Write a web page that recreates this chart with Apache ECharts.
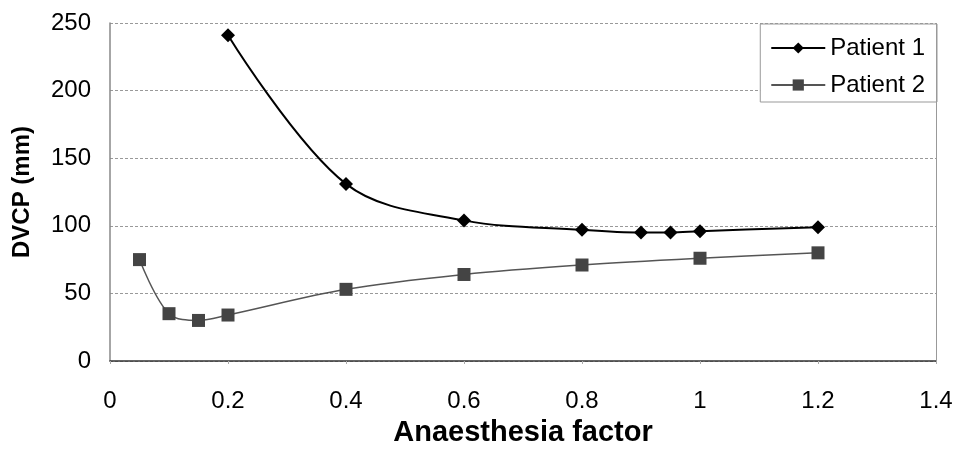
<!DOCTYPE html>
<html>
<head>
<meta charset="utf-8">
<script src="https://cdn.jsdelivr.net/npm/echarts@6/dist/echarts.min.js"></script>
<style>
  html, body { margin: 0; padding: 0; background: #fff; }
  #chart { width: 958px; height: 452px; }
</style>
</head>
<body>
<div id="chart"></div>
<script>
// data
const patient1X = [0.2, 0.4, 0.6, 0.8, 0.9, 0.95, 1.0, 1.2];
const patient1Y = [241, 131, 104, 97, 95, 95, 96, 99];
const patient2X = [0.05, 0.1, 0.15, 0.2, 0.4, 0.6, 0.8, 1.0, 1.2];
const patient2Y = [75, 35, 30, 34, 53, 64, 71, 76, 80];

const FONT = 'Liberation Sans, Arial, sans-serif';

const chart = echarts.init(document.getElementById('chart'));

chart.setOption({
  backgroundColor: '#fff',
  animation: false,
  grid: { left: 110, right: 22, top: 23, bottom: 90 },
  legend: {
    orient: 'vertical',
    right: 21,
    top: 24,
    padding: [12, 12, 5, 10],
    itemGap: 13,
    itemWidth: 54,
    itemHeight: 14,
    backgroundColor: '#fff',
    borderColor: '#999',
    borderWidth: 1,
    textStyle: { fontFamily: FONT, fontSize: 24, color: '#000', padding: [0, 0, 0, 0] },
    data: ['Patient 1', 'Patient 2']
  },
  xAxis: {
    type: 'value',
    min: 0, max: 1.4, interval: 0.2,
    name: 'Anaesthesia factor',
    nameLocation: 'middle',
    nameGap: 57,
    nameTextStyle: { fontFamily: FONT, fontSize: 29, fontWeight: 'bold', color: '#000' },
    axisLine: { lineStyle: { color: '#333', width: 1.5 } },
    axisTick: { show: true, length: 3, inside: false, lineStyle: { color: '#aaa' } },
    axisLabel: { fontFamily: FONT, fontSize: 24, color: '#000', margin: 28 },
    splitLine: { show: false }
  },
  yAxis: {
    type: 'value',
    min: 0, max: 250, interval: 50,
    name: 'DVCP (mm)',
    nameLocation: 'middle',
    nameGap: 76,
    nameRotate: 90,
    nameTextStyle: { fontFamily: FONT, fontSize: 24, fontWeight: 'bold', color: '#000' },
    axisLine: { show: true, lineStyle: { color: '#888', width: 1.5 } },
    axisTick: { show: false },
    axisLabel: { fontFamily: FONT, fontSize: 24, color: '#000', margin: 19 },
    splitLine: { show: true, lineStyle: { color: '#999', type: [3, 2], width: 1 } }
  },
  series: [
    {
      name: 'Patient 1',
      type: 'line',
      smooth: 0.35,
      data: patient1X.map((x, i) => [x, patient1Y[i]]),
      symbol: 'diamond',
      symbolSize: 14,
      lineStyle: { color: '#000', width: 2 },
      itemStyle: { color: '#000' }
    },
    {
      name: 'Patient 2',
      type: 'line',
      smooth: 0.35,
      data: patient2X.map((x, i) => [x, patient2Y[i]]),
      symbol: 'rect',
      symbolSize: 13,
      lineStyle: { color: '#555', width: 1.5 },
      itemStyle: { color: '#444' }
    },
    {
      // right border of the plot area
      type: 'line',
      silent: true,
      data: [],
      markLine: {
        silent: true,
        symbol: 'none',
        label: { show: false },
        lineStyle: { color: '#999', type: 'solid', width: 1 },
        data: [{ xAxis: 1.4 }]
      }
    }
  ]
});
</script>
</body>
</html>
